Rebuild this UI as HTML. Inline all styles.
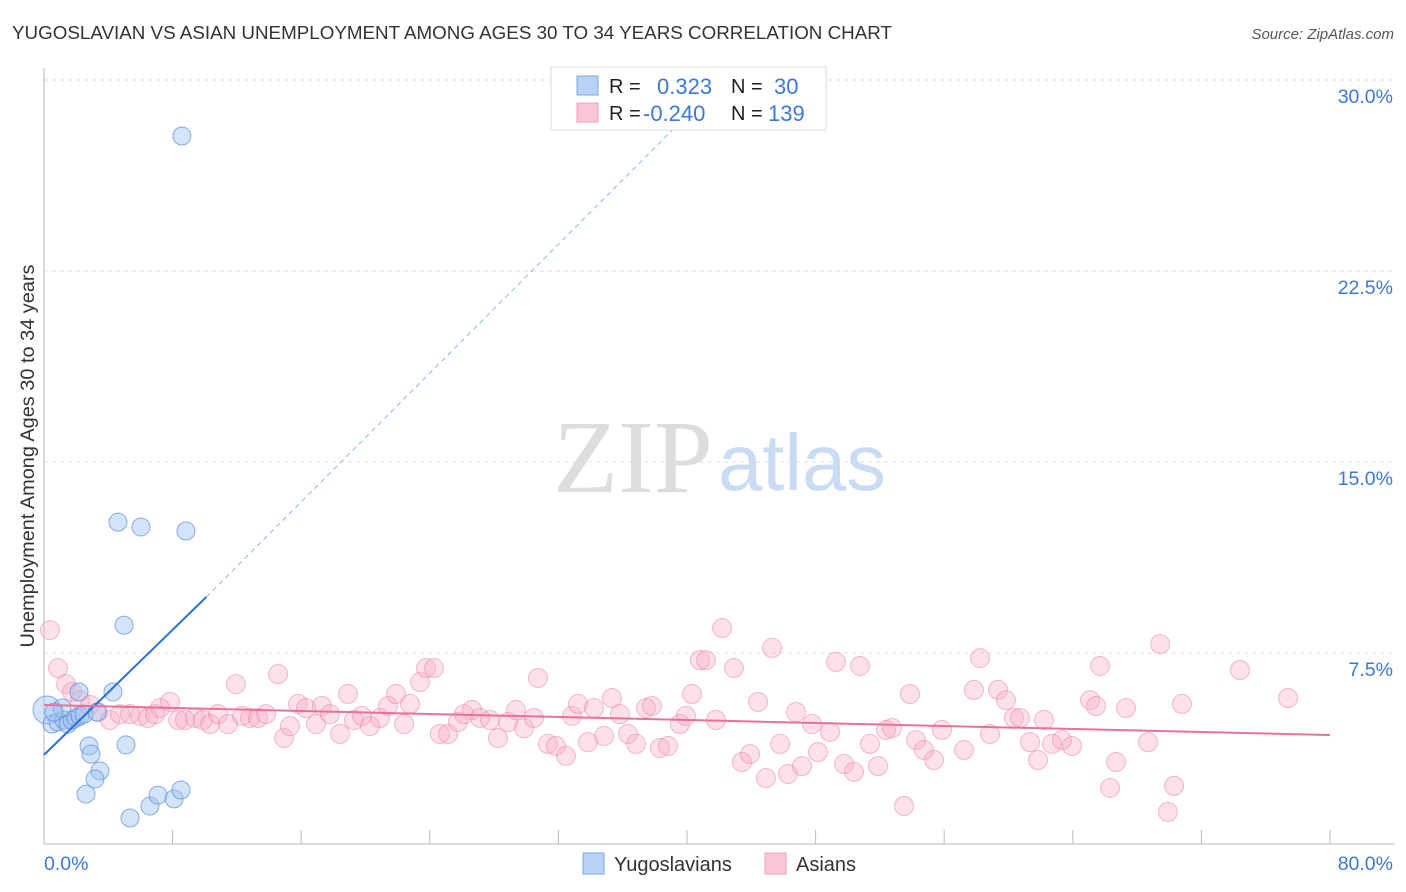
<!DOCTYPE html>
<html><head><meta charset="utf-8"><style>
body{margin:0;background:#fff;font-family:"Liberation Sans",sans-serif}
svg{display:block}
</style></head><body>
<svg id="chart" width="1406" height="892">
<text x="12" y="39" font-size="18.3" fill="#333" textLength="880" lengthAdjust="spacingAndGlyphs">YUGOSLAVIAN VS ASIAN UNEMPLOYMENT AMONG AGES 30 TO 34 YEARS CORRELATION CHART</text>
<text x="1394" y="39" font-size="15" fill="#555" font-style="italic" text-anchor="end">Source: ZipAtlas.com</text>
<text x="553" y="492" font-size="104" fill="#ddd" font-family="Liberation Serif,serif" textLength="160" lengthAdjust="spacingAndGlyphs">ZIP</text>
<text x="718" y="490" font-size="80" fill="#c9dcf3" textLength="168" lengthAdjust="spacingAndGlyphs">atlas</text>
<text transform="translate(34,456) rotate(-90)" font-size="19" fill="#333" text-anchor="middle" textLength="383" lengthAdjust="spacingAndGlyphs">Unemployment Among Ages 30 to 34 years</text>
<g id="grid"></g><g id="pts"></g><g id="lines"></g>
<g>
<rect x="551" y="67" width="275" height="63" fill="#fff" stroke="#ddd"/>
<rect x="577" y="76" width="21" height="19" fill="#b8d2f5" stroke="#7aa8e6"/>
<rect x="577" y="103" width="21" height="19" fill="#f9c6d5" stroke="#f0a0b8"/>
<text x="609" y="93" font-size="20" fill="#222">R =</text><text x="657" y="94" font-size="22" fill="#3b78d8">0.323</text>
<text x="731" y="93" font-size="20" fill="#222">N =</text><text x="774" y="94" font-size="22" fill="#3b78d8">30</text>
<text x="609" y="120" font-size="20" fill="#222">R =</text><text x="643" y="121" font-size="22" fill="#3b78d8">-0.240</text>
<text x="731" y="120" font-size="20" fill="#222">N =</text><text x="768" y="121" font-size="22" fill="#3b78d8">139</text>
</g>
<g>
<rect x="583" y="853" width="21" height="21" fill="#b8d2f5" stroke="#7aa8e6"/>
<text x="614" y="871" font-size="20" fill="#333">Yugoslavians</text>
<rect x="765" y="853" width="21" height="21" fill="#f9c6d5" stroke="#f0a0b8"/>
<text x="796" y="871" font-size="20" fill="#333">Asians</text>
</g>
</svg>
<script>
const yTicks=[7.5,15,22.5,30];
const yTickLabels=["7.5%","15.0%","22.5%","30.0%"];
const xTicks=[0,8,16,24,32,40,48,56,64,72,80];
const xEndLabels=["0.0%","80.0%"];
const yugoX=[8.58,4.60,6.03,8.83,4.98,4.29,0.19,0.50,0.87,1.24,1.49,1.74,1.99,2.24,2.49,1.12,3.30,2.18,5.10,2.80,2.92,3.48,3.17,2.61,5.35,6.59,7.09,8.09,8.52,0.62];
const yugoY=[27.8,12.64,12.45,12.29,8.59,5.97,5.26,4.71,4.79,4.87,4.71,4.87,4.95,5.03,5.10,5.34,5.18,5.97,3.89,3.85,3.53,2.87,2.55,1.96,1.02,1.49,1.92,1.77,2.12,5.18];
const asianX=[0.37,0.87,1.37,1.74,2.24,2.86,3.36,4.11,4.73,5.35,5.97,6.47,6.91,7.22,7.84,8.34,8.77,9.39,9.89,10.33,10.82,11.45,11.94,12.32,12.82,13.31,13.81,14.56,14.93,15.30,15.80,16.30,16.92,17.29,17.79,18.41,18.91,19.28,19.78,20.28,20.90,21.40,21.90,22.40,22.77,23.39,23.76,24.26,24.63,25.13,25.75,26.13,26.63,27.12,27.75,28.24,28.86,29.36,29.86,30.48,30.73,31.35,31.85,32.47,32.85,33.22,33.84,34.21,34.84,35.33,35.83,36.33,36.83,37.45,37.82,38.32,38.82,39.56,39.94,40.31,40.81,41.18,41.80,42.18,42.92,43.42,43.92,44.42,44.91,45.29,45.79,46.28,46.78,47.15,47.78,48.15,48.90,49.27,49.77,50.39,50.76,51.38,51.88,52.38,52.75,53.50,53.87,54.25,54.74,55.37,55.86,57.23,57.85,58.23,58.85,59.35,59.84,60.34,60.72,61.34,61.84,62.21,62.71,63.33,63.95,65.69,65.07,65.44,66.69,66.32,67.31,68.68,69.43,69.92,70.30,70.79,74.40,77.39];
const asianY=[8.40,6.91,6.28,5.97,5.65,5.46,5.18,4.87,5.10,5.10,5.03,4.95,5.10,5.34,5.58,4.87,4.87,4.95,4.87,4.71,5.10,4.71,6.28,5.03,4.95,4.95,5.10,6.67,4.16,4.63,5.50,5.34,4.71,5.42,5.10,4.32,5.89,4.87,5.03,4.63,4.95,5.42,5.89,4.71,5.50,6.36,6.91,6.91,4.32,4.32,4.79,5.10,5.26,4.95,4.87,4.16,4.79,5.26,4.55,4.95,6.52,3.93,3.85,3.46,5.03,5.50,4.00,5.34,4.24,5.73,5.10,4.32,3.93,5.34,5.42,3.77,3.85,4.71,5.03,5.89,7.22,7.22,4.87,8.48,6.91,3.22,3.53,5.58,2.59,7.70,3.93,2.75,5.18,3.06,4.71,3.61,4.40,7.15,3.14,2.83,6.99,3.93,3.06,4.48,4.55,1.49,5.89,4.08,3.69,3.30,4.48,3.69,6.05,7.30,4.32,6.05,5.65,4.95,4.95,4.00,3.30,4.87,3.93,4.08,3.85,6.99,5.65,5.42,3.22,2.20,5.34,4.00,7.85,1.26,2.28,5.50,6.83,5.73];
const yugoTrend=[[0,3.5],[10.1,9.7],[40.3,28.8]];
const asianTrend=[[0,5.46],[80,4.28]];

const NS="http://www.w3.org/2000/svg";
const X0=44,X1=1330,Y0=844,Y30=80;
const sx=v=>X0+(X1-X0)*v/80;
const sy=v=>Y0-(Y0-Y30)*v/30;
function mk(tag,attrs,parent){const e=document.createElementNS(NS,tag);for(const k in attrs)e.setAttribute(k,attrs[k]);parent.appendChild(e);return e;}
const grid=document.getElementById('grid');
yTicks.forEach((t,i)=>{
  const l=mk('line',{x1:X0,x2:1395,y1:sy(t),y2:sy(t),stroke:'#ddd','stroke-dasharray':'4,4'},grid);
  
  
  const tx=mk('text',{x:1393,y:sy(t)+23,'font-size':19.5,fill:'#3b78d8','text-anchor':'end'},grid);
  tx.textContent=yTickLabels[i];
  
  
});
const ax=mk('line',{x1:X0,x2:X0,y1:68,y2:Y0,stroke:'#bbb'},grid);


const xa=mk('line',{x1:X0,x2:1395,y1:Y0,y2:Y0,stroke:'#bbb'},grid);


xTicks.forEach(t=>{
  const l=mk('line',{x1:sx(t),x2:sx(t),y1:Y0,y2:Y0-14,stroke:'#bbb'},grid);
  
  
});
[[0,'start',44],[80,'end',1393]].forEach((d,i)=>{
  const tx=mk('text',{x:d[2],y:870,'font-size':19.5,fill:'#3b78d8','text-anchor':d[1]},grid);
  tx.textContent=xEndLabels[i];
  
  
});
const pts=document.getElementById('pts');
asianX.forEach((x,i)=>{
  const c=mk('circle',{cx:sx(x),cy:sy(asianY[i]),r:9.5,fill:'rgba(245,170,195,0.35)',stroke:'rgba(236,140,170,0.6)','stroke-width':1},pts);
  
  
});
yugoX.forEach((x,i)=>{
  const c=mk('circle',{cx:sx(x),cy:sy(yugoY[i]),r:i==6?14:9,fill:'rgba(160,196,240,0.45)',stroke:'rgba(90,140,220,0.7)','stroke-width':1},pts);
  
  
});
const lines=document.getElementById('lines');
const t1=mk('line',{x1:sx(yugoTrend[0][0]),y1:sy(yugoTrend[0][1]),x2:sx(yugoTrend[1][0]),y2:sy(yugoTrend[1][1]),stroke:'#2f6fd6','stroke-width':2},lines);


const t2=mk('line',{x1:sx(yugoTrend[1][0]),y1:sy(yugoTrend[1][1]),x2:sx(yugoTrend[2][0]),y2:sy(yugoTrend[2][1]),stroke:'#8fb4ea','stroke-width':1,'stroke-dasharray':'5,4'},lines);


const t3=mk('line',{x1:sx(asianTrend[0][0]),y1:sy(asianTrend[0][1]),x2:sx(asianTrend[1][0]),y2:sy(asianTrend[1][1]),stroke:'#e8709a','stroke-width':2},lines);


</script>
</body></html>
